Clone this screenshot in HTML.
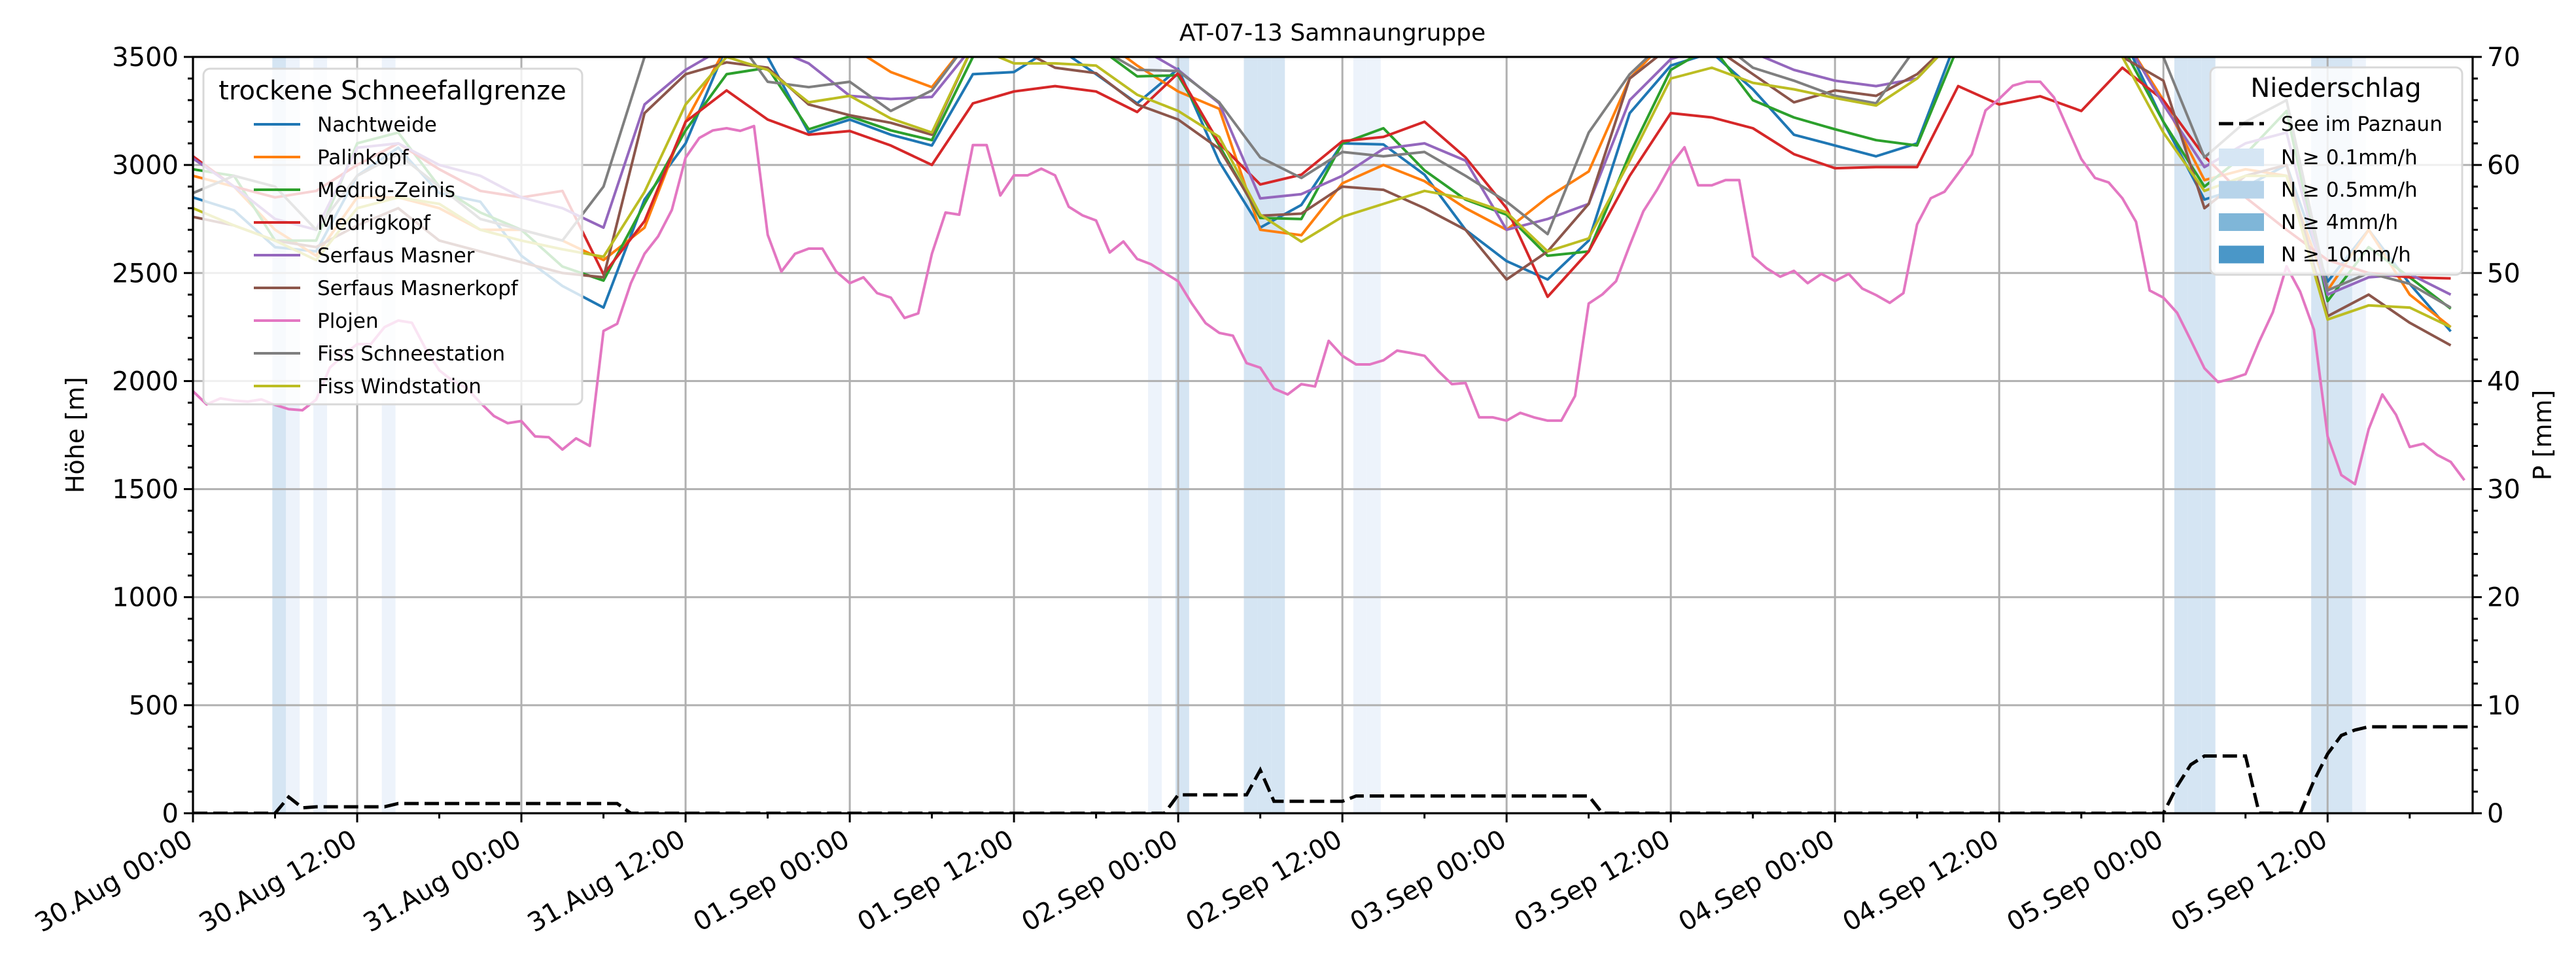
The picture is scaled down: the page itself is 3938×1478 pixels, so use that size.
<!DOCTYPE html>
<html><head><meta charset="utf-8">
<style>
html,body{margin:0;padding:0;background:#fff;}
svg{display:block;font-family:"DejaVu Sans","Liberation Sans",sans-serif;}
</style></head>
<body>
<svg id="chart" xmlns="http://www.w3.org/2000/svg" width="3938" height="1478" viewBox="0 0 3938 1478">
<rect x="0" y="0" width="3938" height="1478" fill="#fff"/>
<defs><clipPath id="plotclip"><rect x="295" y="87" width="3485" height="1156"/></clipPath></defs>
<text x="2037" y="62" font-size="36" text-anchor="middle">AT-07-13 Samnaungruppe</text>
<g id="spans" clip-path="url(#plotclip)"></g>
<g id="grid"></g>
<g id="lines" clip-path="url(#plotclip)"></g>
<g id="legend1"></g>
<g id="dash" clip-path="url(#plotclip)"></g>
<g id="axes"></g>
<g id="legend2"></g>
<text transform="translate(128,665) rotate(-90)" font-size="38" text-anchor="middle">Höhe [m]</text>
<text transform="translate(3900,665) rotate(-90)" font-size="38" text-anchor="middle">P [mm]</text>
</svg>
<script>
const seriesNames = ["Nachtweide","Palinkopf","Medrig-Zeinis","Medrigkopf","Serfaus Masner","Serfaus Masnerkopf","Plojen","Fiss Schneestation","Fiss Windstation"];
const seriesColors = ["#1f77b4","#ff7f0e","#2ca02c","#d62728","#9467bd","#8c564b","#e377c2","#7f7f7f","#bcbd22"];
const step3Hours = 3;
const nachtweide = [2850,2790,2620,2600,2950,3080,2870,2830,2580,2440,2340,2840,3100,3550,3500,3150,3210,3140,3090,3420,3430,3550,3420,3285,3445,3015,2710,2815,3100,3095,2955,2700,2555,2470,2650,3240,3460,3520,3350,3140,3090,3040,3100,3600,3650,3700,3700,3600,3200,2840,2900,3000,2460,2700,2450,2230];
const palinkopf = [2950,2900,2700,2580,2850,2850,2800,2700,2700,2650,2560,2710,3200,3550,3600,3600,3550,3430,3360,3600,3600,3600,3600,3460,3340,3260,2700,2675,2915,3000,2925,2800,2700,2850,2970,3400,3600,3650,3650,3550,3600,3600,3550,3600,3600,3600,3600,3600,3300,2930,2980,2950,2420,2700,2400,2250];
const medrigZeinis = [2980,2950,2650,2650,3100,3150,2900,2780,2700,2530,2465,2820,3160,3420,3450,3165,3225,3160,3115,3500,3600,3600,3550,3410,3415,3090,2755,2750,3100,3170,2975,2840,2770,2580,2600,3050,3440,3550,3300,3220,3165,3115,3090,3550,3650,3650,3650,3550,3200,2900,3050,3250,2370,2620,2480,2335];
const medrigkopf = [3040,2900,2850,2880,3000,3100,2980,2880,2850,2880,2494,2740,3200,3345,3210,3140,3157,3090,3000,3285,3340,3365,3340,3245,3425,3100,2910,2955,3110,3130,3200,3035,2800,2390,2600,2950,3240,3220,3170,3050,2985,2990,2990,3365,3280,3318,3250,3450,3300,3040,2850,2700,2560,2500,2480,2475];
const serfausMasner = [3030,2900,2750,2700,3080,3100,3000,2950,2850,2800,2710,3280,3440,3550,3550,3470,3320,3305,3315,3550,3600,3600,3600,3550,3440,3285,2845,2865,2950,3075,3100,3020,2700,2750,2820,3300,3490,3550,3520,3440,3390,3365,3400,3600,3650,3650,3650,3600,3280,2990,3100,3150,2400,2480,2495,2400];
const serfausMasnerkopf = [2760,2720,2650,2620,2720,2800,2650,2600,2550,2500,2480,3240,3420,3475,3450,3280,3230,3195,3140,3550,3550,3450,3425,3280,3210,3075,2765,2775,2900,2885,2800,2700,2470,2600,2820,3400,3550,3550,3420,3290,3345,3320,3420,3600,3600,3600,3550,3500,3390,2800,2950,3000,2300,2400,2270,2165];
const plojen = [1953,1892,1920,1910,1905,1915,1890,1870,1865,1914,2062,2120,2171,2171,2250,2280,2270,2150,2050,2000,1968,1900,1838,1805,1815,1744,1740,1683,1735,1700,2232,2265,2453,2589,2670,2792,3034,3125,3160,3170,3158,3180,2677,2507,2589,2613,2613,2507,2453,2480,2407,2386,2292,2313,2589,2780,2770,3092,3092,2859,2952,2952,2983,2952,2807,2767,2743,2595,2646,2565,2541,2501,2462,2359,2268,2223,2210,2083,2062,1965,1938,1986,1975,2186,2117,2077,2077,2096,2141,2130,2117,2047,1986,1991,1832,1832,1817,1853,1832,1817,1817,1931,2359,2401,2462,2628,2786,2886,3000,3082,2906,2906,2930,2930,2577,2522,2483,2510,2453,2496,2463,2496,2428,2398,2362,2407,2725,2846,2876,2961,3049,3252,3306,3367,3385,3385,3313,3170,3028,2940,2919,2846,2737,2419,2386,2316,2189,2059,1995,2011,2032,2183,2319,2531,2413,2238,1744,1565,1523,1777,1938,1844,1695,1710,1659,1626,1541];
const fissSchneestation = [2870,2950,2900,2700,2950,3050,2900,2750,2700,2650,2900,3500,3650,3650,3385,3360,3385,3250,3345,3600,3600,3600,3550,3440,3435,3290,3035,2940,3060,3040,3060,2950,2830,2680,3150,3420,3600,3600,3450,3390,3320,3285,3550,3650,3650,3650,3650,3600,3500,3035,3200,3300,2420,2500,2450,2340];
const fissWindstation = [2800,2720,2650,2560,2800,2850,2820,2700,2650,2610,2575,2875,3280,3500,3440,3290,3320,3215,3150,3550,3470,3470,3460,3325,3250,3130,2770,2645,2760,2820,2880,2845,2780,2600,2660,3020,3400,3450,3380,3350,3310,3275,3400,3600,3600,3600,3600,3500,3150,2880,2950,2950,2285,2350,2340,2250];
const seriesValues = [nachtweide,palinkopf,medrigZeinis,medrigkopf,serfausMasner,serfausMasnerkopf,plojen,fissSchneestation,fissWindstation];
const seriesStep = [3,3,3,3,3,3,1,3,3];
const precipSumHours = [0,6,7,8,9,14,15,31,32,71,72,77,78,79,84,85,102,103,144,145,146,147,150,151,154,155,156,157,158,159,168];
const precipSumValues = [0,0,1.5,0.5,0.6,0.6,0.9,0.9,0,0,1.7,1.7,4.0,1.1,1.1,1.6,1.6,0,0,2.5,4.5,5.3,5.3,0,0,3.0,5.5,7.2,7.7,8.0,8.0];
const precipHours = [6,7,9,14,70,72,77,78,79,85,86,145,146,147,155,156,157,158];
const precipLevels = [0.5,0.1,0.1,0.1,0.1,0.5,0.5,0.5,0.5,0.1,0.1,0.5,0.5,0.5,0.5,0.5,0.5,0.1];
const xTickLabels = ["30.Aug 00:00","30.Aug 12:00","31.Aug 00:00","31.Aug 12:00","01.Sep 00:00","01.Sep 12:00","02.Sep 00:00","02.Sep 12:00","03.Sep 00:00","03.Sep 12:00","04.Sep 00:00","04.Sep 12:00","05.Sep 00:00","05.Sep 12:00"];
const yTicks = [0,500,1000,1500,2000,2500,3000,3500];
const y2Ticks = [0,10,20,30,40,50,60,70];
const precipLegendLabels = ["N ≥ 0.1mm/h","N ≥ 0.5mm/h","N ≥ 4mm/h","N ≥ 10mm/h"];
const precipLegendColors = ["#d6e6f4","#b7d4ea","#7fb6d8","#4a97c8"];

const X0=295, X1=3780, Y0=87, Y1=1243, HMAX=166.6;
const NS="http://www.w3.org/2000/svg";
function xs(h){return X0+h*(X1-X0)/HMAX;}
function yl(v){return Y1-v*(Y1-Y0)/3500;}
function yr(v){return Y1-v*(Y1-Y0)/70;}
function mk(tag,attrs,parent){const e=document.createElementNS(NS,tag);for(const k in attrs)e.setAttribute(k,attrs[k]);parent.appendChild(e);return e;}

const gSp=document.getElementById('spans');
precipHours.forEach((h,i)=>{
  const r=mk('rect',{x:xs(h-0.2),y:Y0,width:xs(h+0.8)-xs(h-0.2),height:Y1-Y0,fill:precipLevels[i]>=0.5?'#d5e5f3':'#edf3fb'},gSp);
  
  
});

const gG=document.getElementById('grid');
for(let i=0;i<xTickLabels.length;i++){const x=xs(i*12);const l=mk('line',{x1:x,x2:x,y1:Y0,y2:Y1,stroke:'#b0b0b0','stroke-width':3},gG);
  
  }
yTicks.forEach(v=>{const y=yl(v);const l=mk('line',{x1:X0,x2:X1,y1:y,y2:y,stroke:'#b0b0b0','stroke-width':3},gG);
  
  });

const gL=document.getElementById('lines');
seriesValues.forEach((vals,si)=>{
  const pts=vals.map((v,i)=>xs(i*seriesStep[si]).toFixed(1)+','+yl(v).toFixed(1)).join(' ');
  const p=mk('polyline',{points:pts,fill:'none',stroke:seriesColors[si],'stroke-width':4,'stroke-linejoin':'round'},gL);
  
  
});

// legend 1
const g1=document.getElementById('legend1');


mk('rect',{x:311,y:105,width:579,height:513,rx:10,fill:'#fff','fill-opacity':0.8,stroke:'#d8d8d8','stroke-width':3},g1);
const t1=mk('text',{x:600,y:152,'font-size':40,'text-anchor':'middle'},g1);t1.textContent='trockene Schneefallgrenze';


seriesNames.forEach((n,i)=>{
  const y=190+i*50;
  const e=mk('g',{},g1);
  
  
  mk('line',{x1:388,x2:459,y1:y,y2:y,stroke:seriesColors[i],'stroke-width':4},e);
  const t=mk('text',{x:485,y:y+11,'font-size':31},e);t.textContent=n;
});

// dashed precipitation sum
const gD=document.getElementById('dash');
const dp=precipSumHours.map((h,i)=>xs(h).toFixed(1)+','+yr(precipSumValues[i]).toFixed(1)).join(' ');
const dl=mk('polyline',{points:dp,fill:'none',stroke:'#000','stroke-width':5,'stroke-dasharray':'22 9'},gD);



// axes
const gA=document.getElementById('axes');
const fr=mk('rect',{x:X0,y:Y0,width:X1-X0,height:Y1-Y0,fill:'none',stroke:'#000','stroke-width':3.2},gA);


for(let v=0;v<=3500;v+=100){const y=yl(v);const maj=v%500===0;mk('line',{x1:X0,x2:X0-(maj?14:8),y1:y,y2:y,stroke:'#000','stroke-width':3},gA);}
yTicks.forEach(v=>{const t=mk('text',{x:X0-22,y:yl(v)+14,'font-size':40,'text-anchor':'end'},gA);t.textContent=v;
  
  });
for(let v=0;v<=70;v+=2){const y=yr(v);const maj=v%10===0;mk('line',{x1:X1,x2:X1+(maj?14:8),y1:y,y2:y,stroke:'#000','stroke-width':3},gA);}
y2Ticks.forEach(v=>{const t=mk('text',{x:X1+22,y:yr(v)+14,'font-size':40,'text-anchor':'start'},gA);t.textContent=v;
  
  });
for(let h=0;h<=HMAX;h+=6){const x=xs(h);const maj=h%12===0;mk('line',{x1:x,x2:x,y1:Y1,y2:Y1+(maj?14:8),stroke:'#000','stroke-width':3},gA);}
xTickLabels.forEach((lab,i)=>{const x=xs(i*12);
  const t=mk('text',{transform:'translate('+(x-12)+',1266) rotate(-30)','font-size':40,'text-anchor':'end','dominant-baseline':'hanging'},gA);
  t.textContent=lab;
  
  });

// legend 2
const g2=document.getElementById('legend2');


mk('rect',{x:3379,y:103,width:385,height:317,rx:10,fill:'#fff','fill-opacity':0.8,stroke:'#d8d8d8','stroke-width':3},g2);
const t2=mk('text',{x:3571,y:148,'font-size':40,'text-anchor':'middle'},g2);t2.textContent='Niederschlag';


const ed=mk('g',{},g2);


mk('line',{x1:3392,x2:3461,y1:189,y2:189,stroke:'#000','stroke-width':5,'stroke-dasharray':'22 9'},ed);
const td=mk('text',{x:3487,y:200,'font-size':31},ed);td.textContent='See im Paznaun';
precipLegendLabels.forEach((lab,i)=>{const y=240+i*49.5;
  const e=mk('g',{},g2);
  
  
  mk('rect',{x:3392,y:y-13,width:69,height:27,fill:precipLegendColors[i]},e);
  const t=mk('text',{x:3487,y:y+11,'font-size':31},e);t.textContent=lab;});
</script>
</body></html>
